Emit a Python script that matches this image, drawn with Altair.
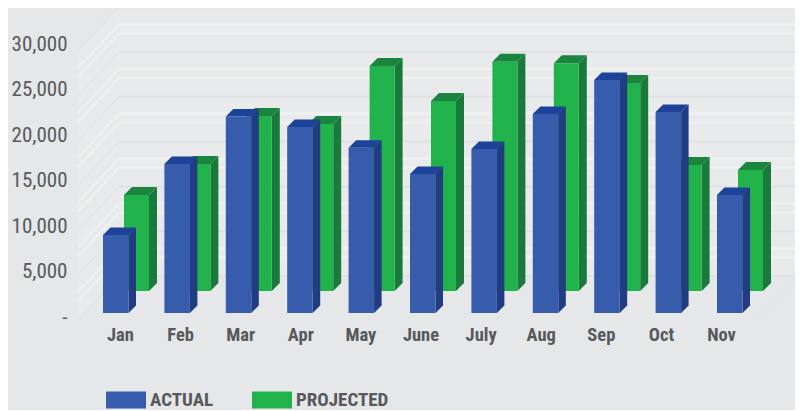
import altair as alt
import pandas as pd

months = ["Jan", "Feb", "Mar", "Apr", "May", "June", "July", "Aug", "Sep", "Oct", "Nov"]
actual = [8700, 16630, 21930, 20760, 18450, 15510, 18300, 22210, 26000, 22430, 13170]
projected = [10710, 14170, 19530, 18640, 25110, 21200, 25590, 25410, 23210, 14060, 13500]
ticks = [0, 5000, 10000, 15000, 20000, 25000, 30000]

FONT = "Roboto Condensed, DejaVu Sans Condensed, Liberation Sans"
BG = "#e6e7e9"
TXT = "#58595b"

# pixel helpers: one value unit / one x unit on screen
PY = 44.8 / 5000
PX = 61.4
W, H = 725, 314
X0 = 33.0  # px from plot left to first blue bar
Y0 = 305.0  # px from plot top to the blue baseline
x_dom = [-X0 / PX, (W - X0) / PX]
y_dom = [-(H - Y0) / PY, Y0 / PY]
ux = lambda px: px / PX
uy = lambda px: px / PY


def X(f):
    return alt.X(f, type="quantitative", scale=alt.Scale(domain=x_dom), axis=None)


def Y(f):
    return alt.Y(f, type="quantitative", scale=alt.Scale(domain=y_dom), axis=None, stack=None)


def bars(values, series, shift_px, shift_base_px, width_px, depth_px):
    front, side, top = [], [], []
    d, h = ux(depth_px), uy(depth_px)
    for i, (m, v) in enumerate(zip(months, values)):
        xl = i + ux(shift_px)
        xr = xl + ux(width_px)
        b = uy(shift_base_px)
        t = b + v
        front.append(dict(month=m, series=series, x=xl, x2=xr, y=b, y2=t))
        side += [dict(month=m, x=xr, y=t, y2=b), dict(month=m, x=xr + d, y=t + h, y2=b + h)]
        top += [
            dict(month=m, x=xl, y=t, y2=t),
            dict(month=m, x=xl + d, y=t + h, y2=t),
            dict(month=m, x=xr, y=t + h, y2=t),
            dict(month=m, x=xr + d, y=t + h, y2=t + h),
        ]
    return pd.DataFrame(front), pd.DataFrame(side), pd.DataFrame(top)


color = alt.Color(
    "series:N",
    scale=alt.Scale(domain=["ACTUAL", "PROJECTED"], range=["#365cab", "#22b24c"]),
    legend=alt.Legend(
        orient="none", legendX=36, legendY=372, direction="horizontal", title=None,
        symbolType="M-1,-0.43H1V0.43H-1Z", symbolSize=1600, symbolStrokeWidth=0,
        symbolOpacity=1, labelFont=FONT, labelFontWeight="bold", labelFontSize=19,
        labelColor=TXT, labelOffset=4, columnPadding=38, padding=0,
        labelExpr="datum.value == 'PROJECTED' ? '\u2002PROJECTED' : datum.value",
    ),
)


def bar_layers(front, side, top, side_c, top_c):
    return [
        alt.Chart(side).mark_area(color=side_c, opacity=1).encode(X("x"), Y("y"), y2="y2", detail="month:N"),
        alt.Chart(top).mark_area(color=top_c, opacity=1).encode(X("x"), Y("y"), y2="y2", detail="month:N"),
        alt.Chart(front).mark_rect().encode(X("x"), x2="x2", y=Y("y"), y2="y2", color=color),
    ]


# wall geometry
wall_l, wall_r = ux(119 - 103), ux(797 - 103)
front_l = ux(78 - 103)
wall0 = uy(313 - 276)
front0 = uy(313 - 320)
majors = pd.DataFrame({"x": wall_l, "x2": wall_r, "y": [wall0 + t for t in ticks]})
minor_off = [uy(44.8 - 17), uy(44.8 - 26)]
minors = pd.DataFrame(
    [{"x": wall_l, "x2": wall_r, "y": wall0 + t + o} for t in ticks[:-1] for o in minor_off]
)
wall = pd.DataFrame([{"x": wall_l, "x2": wall_r, "y": wall0, "y2": wall0 + 30000}])

side_wall = pd.DataFrame(
    [
        {"x": front_l, "y": front0 + 30000, "y2": front0},
        {"x": wall_l, "y": wall0 + 30000, "y2": wall0},
    ]
)
diag_rows = []
for k, t in enumerate(ticks):
    diag_rows += [
        {"k": f"M{k}", "x": front_l, "y": front0 + t},
        {"k": f"M{k}", "x": wall_l, "y": wall0 + t},
    ]
diag_major = pd.DataFrame(diag_rows)
diag_rows = []
for k, t in enumerate(ticks[:-1]):
    for j, o in enumerate(minor_off):
        diag_rows += [
            {"k": f"m{k}{j}", "x": front_l, "y": front0 + t + o},
            {"k": f"m{k}{j}", "x": wall_l, "y": wall0 + t + o},
        ]
diag_minor = pd.DataFrame(diag_rows)
floor_edge = pd.DataFrame(
    [{"k": "f", "x": ux(753 - 103), "y": front0}, {"k": "f", "x": wall_r, "y": wall0}]
)

backdrop = [
    alt.Chart(wall).mark_rect(color="#e9eaeb").encode(X("x"), x2="x2", y=Y("y"), y2="y2"),
    alt.Chart(side_wall).mark_area(color="#e8e9ea").encode(X("x"), Y("y"), y2="y2"),
    alt.Chart(minors).mark_rule(color="#eff0f0", strokeWidth=3).encode(X("x"), x2="x2", y=Y("y")),
    alt.Chart(diag_minor).mark_line(color="#eff0f0", strokeWidth=3).encode(X("x"), Y("y"), detail="k:N"),
    alt.Chart(majors).mark_rule(color="#dfe0e1", strokeWidth=2).encode(X("x"), x2="x2", y=Y("y")),
    alt.Chart(diag_major).mark_line(color="#dfe0e1", strokeWidth=1).encode(X("x"), Y("y"), detail="k:N"),
    alt.Chart(floor_edge).mark_line(color="#dfe0e1", strokeWidth=1).encode(X("x"), Y("y"), detail="k:N"),
]

# axes with their own label spacing
lab_per_px = 30000 / 273
y_axis = alt.Chart(pd.DataFrame({"t": ticks})).mark_point(opacity=0).encode(
    y=alt.Y(
        "t:Q",
        scale=alt.Scale(domain=[-5 * lab_per_px, 309 * lab_per_px]),
        axis=alt.Axis(
            values=ticks, orient="left", title=None, domain=False, ticks=False, grid=False,
            labelPadding=3, labelFont=FONT, labelFontSize=21, labelColor=TXT,
            labelExpr="datum.value == 0 ? '-' : format(datum.value, ',')",
        ),
    ),
    x=alt.value(0),
)
x_axis = alt.Chart(pd.DataFrame({"m": months})).mark_point(opacity=0).encode(
    x=alt.X(
        "m:O",
        sort=months,
        scale=alt.Scale(type="point", domain=months, range=[50, 651], padding=0),
        axis=alt.Axis(
            orient="bottom", title=None, domain=False, ticks=False, grid=False, labelAngle=0,
            labelPadding=3, labelFont=FONT, labelFontWeight="bold", labelFontSize=18.5, labelColor=TXT,
        ),
    ),
    y=alt.value(0),
)

g_front, g_side, g_top = bars(projected, "PROJECTED", 21, 22, 25, 8)
b_front, b_side, b_top = bars(actual, "ACTUAL", 0, 0, 25.5, 7.5)

layers = (
    backdrop
    + bar_layers(g_front, g_side, g_top, "#197a3b", "#1b8540")
    + bar_layers(b_front, b_side, b_top, "#213c80", "#1c4399")
    + [y_axis, x_axis]
)

chart = (
    alt.layer(*layers)
    .resolve_scale(x="independent", y="independent", color="shared")
    .resolve_axis(x="independent", y="independent")
    .properties(
        width=W,
        height=H,
        background=BG,
        padding={"left": 62, "top": 0, "right": 0, "bottom": 88},
        autosize=alt.AutoSizeParams(type="none"),
    )
    .configure_view(strokeWidth=0)
)
chart.save("out.html", embed_options={"renderer": "svg", "actions": False})
